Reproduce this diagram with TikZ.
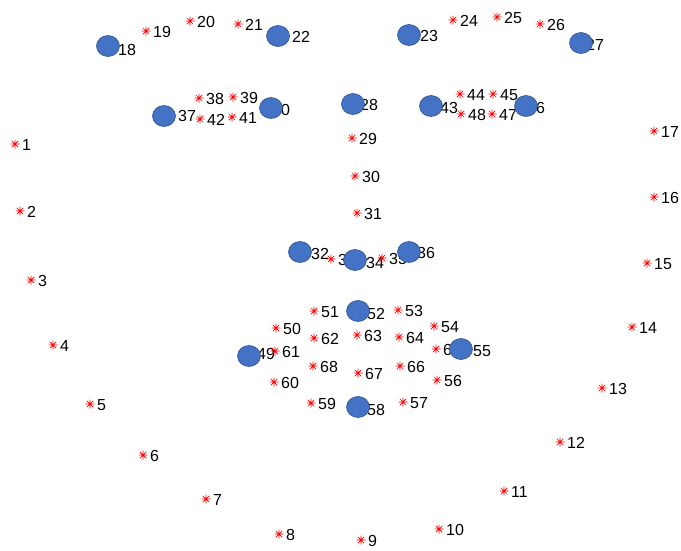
\documentclass[tikz,border=0pt]{standalone}
\usepackage{fontspec}
\setmainfont{Liberation Sans}
\usetikzlibrary{shapes.geometric}
\definecolor{blobfill}{HTML}{4472C4}
\definecolor{blobline}{HTML}{2F528F}
\tikzset{
  redstar/.style={red, line width=0.7pt},
  lbl/.style={anchor=west, inner sep=0pt, text=black, font=\fontsize{16}{16}\selectfont, xshift=7pt, yshift=-1pt},
  blob/.style={ellipse, minimum width=23pt, minimum height=21pt, inner sep=0pt, fill=blobfill, draw=blobline, line width=0.6pt}
}
\begin{document}
\begin{tikzpicture}[x=1pt,y=-1pt]
\useasboundingbox (0,0) rectangle (681,550);
\foreach \i/\x/\y in {
 1/15/144, 2/20/211, 3/31/280, 4/53/345, 5/90/404, 6/143/455, 7/206/499, 8/279/534,
 9/361/540, 10/439/529, 11/504/491, 12/560/442, 13/602/388, 14/632/327, 15/647/263,
 16/654/197, 17/654/131,
 18/111/49, 19/146/31, 20/190/21, 21/238/24, 22/285/36,
 23/413/35, 24/453/20, 25/497/17, 26/540/24, 27/579/44,
 28/353/104, 29/352/138, 30/355/176, 31/357/213,
 32/304/253, 33/331/259, 34/359/262, 35/382/258, 36/410/252,
 37/171/115, 38/199/98, 39/233/97, 40/265/109, 41/232/117, 42/200/119,
 43/433/107, 44/460/94, 45/493/94, 46/520/107, 47/492/114, 48/461/114,
 49/250/353, 50/276/328, 51/314/311, 52/360/313, 53/398/310, 54/434/326, 55/466/350,
 56/437/380, 57/403/402, 58/360/409, 59/311/403, 60/274/382,
 61/275/351, 62/314/338, 63/357/335, 64/399/337, 65/436/349, 66/400/366, 67/358/373, 68/313/366}
{
  \coordinate (p\i) at (\x,\y);
  \draw[redstar] (p\i) +(-4.5,0) -- +(4.5,0) (p\i) +(0,-4.5) -- +(0,4.5)
                 (p\i) +(-3.2,-3.2) -- +(3.2,3.2) (p\i) +(-3.2,3.2) -- +(3.2,-3.2);
  \node[lbl] (l\i) at (p\i) {\i};
}
\foreach \i/\x/\y in {18/108/46, 22/278/36, 23/409/35, 27/581/43, 28/353/104,
  32/300/252, 34/355/260, 36/409/252, 37/164/116, 40/271/108, 43/431/106,
  46/526/106, 49/249/356, 52/358/311, 55/461/349, 58/358/407}
  \node[blob] (e\i) at (\x,\y) {};
\end{tikzpicture}
\end{document}
